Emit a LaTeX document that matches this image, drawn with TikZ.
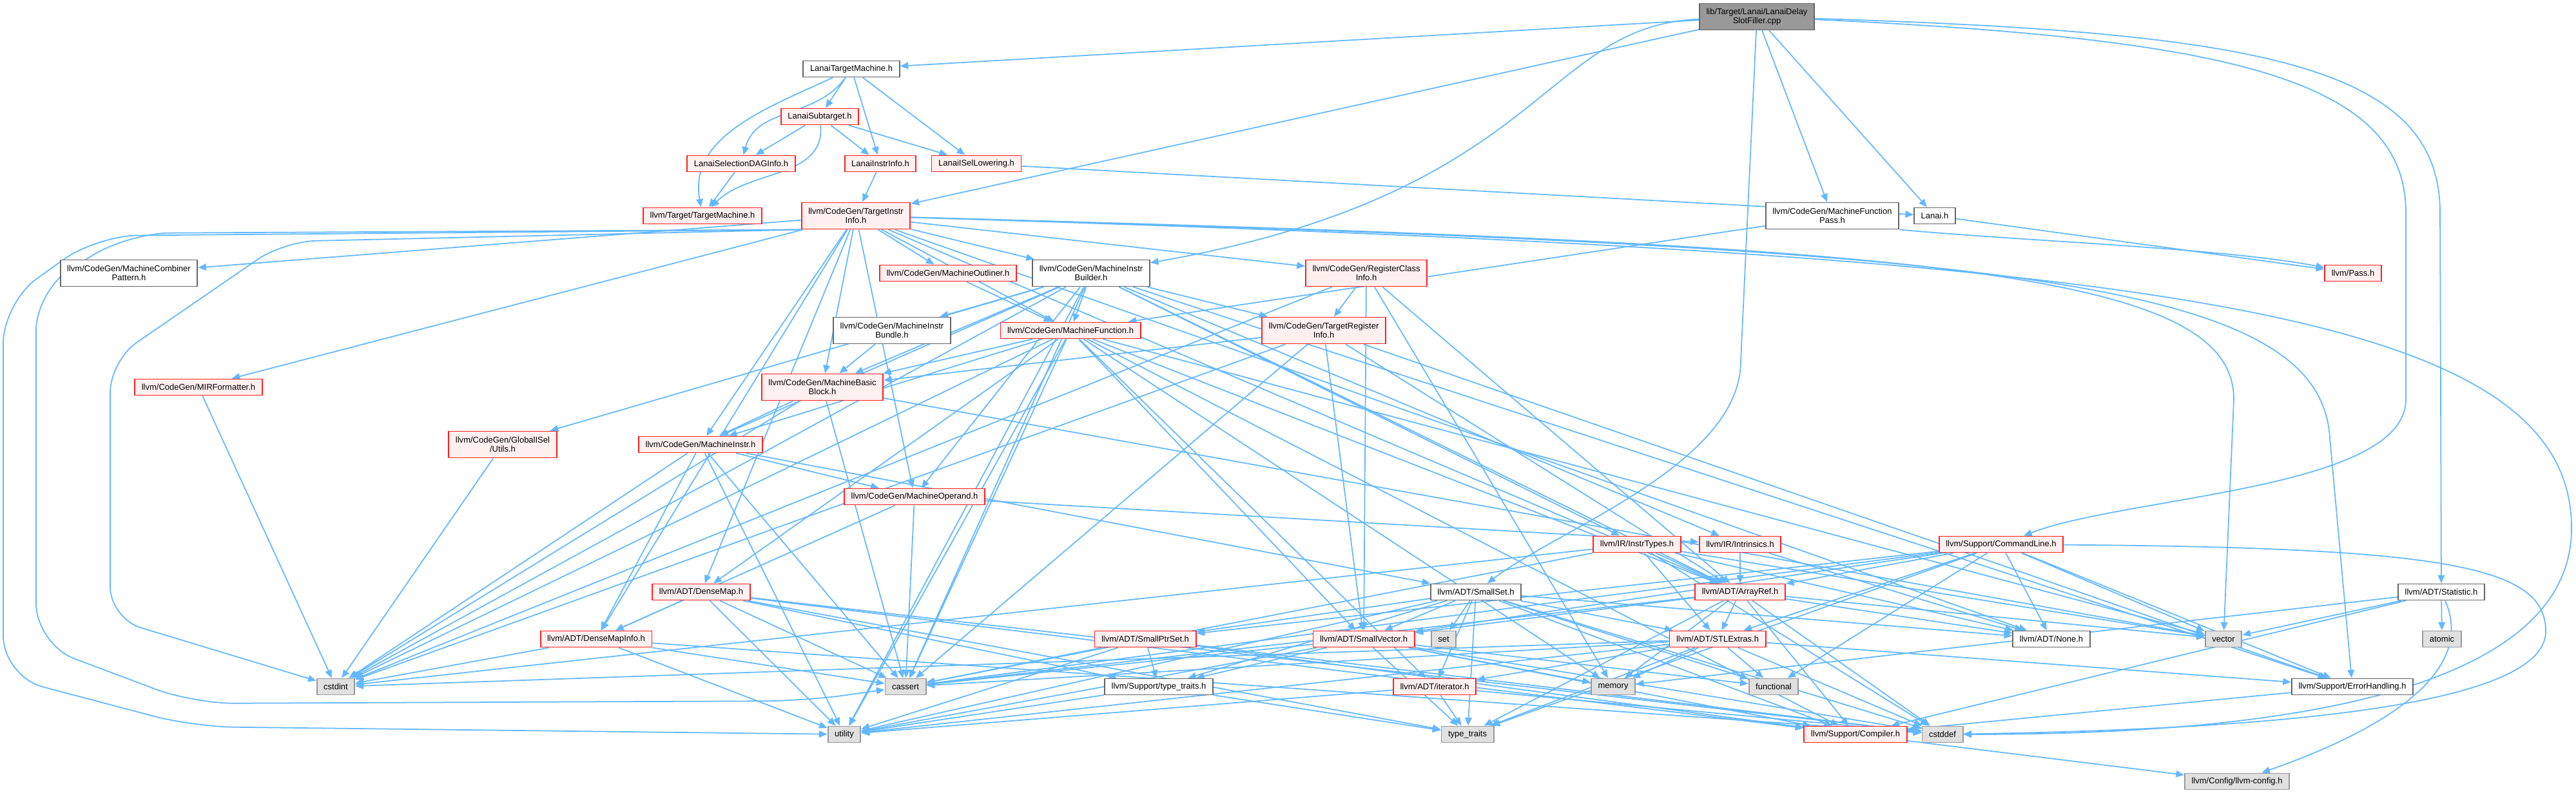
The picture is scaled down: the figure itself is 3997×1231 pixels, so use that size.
\documentclass[tikz,border=0pt]{standalone}
\usepackage{fontspec}
\setmainfont{Liberation Sans}
\usetikzlibrary{arrows.meta,backgrounds}
\definecolor{depblue}{HTML}{63B8FF}
\definecolor{hdrred}{HTML}{FF2020}
\definecolor{hdrpink}{HTML}{FFF0F0}
\definecolor{sysfill}{HTML}{E0E0E0}
\definecolor{sysline}{HTML}{999999}
\definecolor{fileline}{HTML}{666666}
\begin{document}
\begin{tikzpicture}[x=0.01cm, y=-0.01cm, every node/.style={font=\fontsize{3.7}{4.1}\selectfont},
  box/.style={draw,rectangle,align=center,inner xsep=3pt,inner ysep=1.5pt,minimum height=0.25cm,line width=0.55pt},
  two/.style={minimum height=0.41cm},
  hdr/.style={box,draw=hdrred,fill=hdrpink},
  leaf/.style={box,draw=fileline,fill=white},
  sys/.style={box,draw=sysline,fill=sysfill},
  main/.style={box,draw=fileline,fill=sysline},
  dep/.style={draw=depblue,line width=0.5pt,-{Triangle[length=3.6pt,width=3pt]}}]
\useasboundingbox (0,0) rectangle (3997,1231);
% Lanai target headers
\node[main,two] (root) at (2726,26) {lib/Target/Lanai/LanaiDelay\\SlotFiller.cpp};
\node[leaf] (ltm) at (1321,107) {LanaiTargetMachine.h};
\node[hdr] (lsub) at (1272,181) {LanaiSubtarget.h};
\node[hdr] (lsdag) at (1150,254) {LanaiSelectionDAGInfo.h};
\node[hdr] (lii) at (1366,254) {LanaiInstrInfo.h};
\node[hdr] (lisel) at (1515,254) {LanaiISelLowering.h};
\node[hdr] (tm) at (1090,335) {llvm/Target/TargetMachine.h};
\node[hdr,two] (tii) at (1328,335) {llvm/CodeGen/TargetInstr\\Info.h};
\node[leaf,two] (mfp) at (2843,335) {llvm/CodeGen/MachineFunction\\Pass.h};
\node[leaf] (lanai) at (3002,335) {Lanai.h};
% CodeGen headers
\node[leaf,two] (mcp) at (200,424) {llvm/CodeGen/MachineCombiner\\Pattern.h};
\node[hdr] (mout) at (1471,424) {llvm/CodeGen/MachineOutliner.h};
\node[leaf,two] (mib) at (1693,424) {llvm/CodeGen/MachineInstr\\Builder.h};
\node[hdr,two] (rci) at (2120,424) {llvm/CodeGen/RegisterClass\\Info.h};
\node[hdr] (pass) at (3651,424) {llvm/Pass.h};
\node[leaf,two] (mibun) at (1384,513) {llvm/CodeGen/MachineInstr\\Bundle.h};
\node[hdr] (mf) at (1661,513) {llvm/CodeGen/MachineFunction.h};
\node[hdr,two] (tri) at (2054,513) {llvm/CodeGen/TargetRegister\\Info.h};
\node[hdr] (mirf) at (308,601) {llvm/CodeGen/MIRFormatter.h};
\node[hdr,two] (mbb) at (1276,601) {llvm/CodeGen/MachineBasic\\Block.h};
\node[hdr,two] (gis) at (780,690) {llvm/CodeGen/GlobalISel\\/Utils.h};
\node[hdr] (mi) at (1087,690) {llvm/CodeGen/MachineInstr.h};
\node[hdr] (mop) at (1419,771) {llvm/CodeGen/MachineOperand.h};
% IR, Support and ADT headers
\node[hdr] (instrt) at (2540,845) {llvm/IR/InstrTypes.h};
\node[hdr] (intrin) at (2700,845) {llvm/IR/Intrinsics.h};
\node[hdr] (cl) at (3105,845) {llvm/Support/CommandLine.h};
\node[hdr] (dmap) at (1088,919) {llvm/ADT/DenseMap.h};
\node[leaf] (sset) at (2290,919) {llvm/ADT/SmallSet.h};
\node[hdr] (aref) at (2700,919) {llvm/ADT/ArrayRef.h};
\node[leaf] (stat) at (3788,919) {llvm/ADT/Statistic.h};
\node[hdr] (dmi) at (925,992) {llvm/ADT/DenseMapInfo.h};
\node[hdr] (sps) at (1777,992) {llvm/ADT/SmallPtrSet.h};
\node[hdr] (svec) at (2116,992) {llvm/ADT/SmallVector.h};
\node[sys] (set) at (2240,992) {set};
\node[hdr] (stl) at (2665,992) {llvm/ADT/STLExtras.h};
\node[leaf] (none) at (3183,992) {llvm/ADT/None.h};
\node[sys] (vector) at (3450,992) {vector};
\node[sys] (atomic) at (3789,992) {atomic};
\node[sys] (cstdint) at (521,1066) {cstdint};
\node[sys] (cassert) at (1405,1066) {cassert};
\node[leaf] (stt) at (1798,1066) {llvm/Support/type\_traits.h};
\node[hdr] (iter) at (2226,1066) {llvm/ADT/iterator.h};
\node[sys] (memory) at (2503,1066) {memory};
\node[sys] (functional) at (2752,1066) {functional};
\node[leaf] (eh) at (3650,1066) {llvm/Support/ErrorHandling.h};
\node[sys] (utility) at (1310,1140) {utility};
\node[sys] (tt) at (2277,1140) {type\_traits};
\node[hdr] (comp) at (2879,1140) {llvm/Support/Compiler.h};
\node[sys] (cstddef) at (3014,1140) {cstddef};
\node[sys] (cfg) at (3471,1213) {llvm/Config/llvm-config.h};
\begin{scope}[on background layer]
% root file
\draw[dep] (root) -- (ltm); \draw[dep] (root) -- (tii); \draw[dep] (root) -- (mfp); \draw[dep] (root) -- (lanai);
\draw[dep] (root) .. controls (2390,40) and (2400,300) .. (mib);
\draw[dep] (root) -- (2701,560) .. controls (2701,720) and (2420,820) .. (sset);
\draw[dep] (root) .. controls (3450,60) and (3733,120) .. (3733,330) -- (3733,620) .. controls (3733,760) and (3300,770) .. (cl);
\draw[dep] (root) .. controls (3500,50) and (3786,100) .. (3786,330) -- (stat);
% Lanai headers
\draw[dep] (ltm) -- (lsub); \draw[dep] (ltm) -- (lii); \draw[dep] (ltm) -- (lisel);
\draw[dep] (ltm) to[out=235,in=75] (lsdag); \draw[dep] (ltm) to[out=205,in=100] (tm);
\draw[dep] (lsub) -- (lsdag); \draw[dep] (lsub) -- (lii); \draw[dep] (lsub) -- (lisel); \draw[dep] (lsub) to[out=275,in=45] (tm);
\draw[dep] (lsdag) -- (tm); \draw[dep] (lii) -- (tii); \draw[dep] (lisel) -- (lanai);
\draw[dep] (mfp) -- (mf); \draw[dep] (mfp.south east) .. controls (3150,375) and (3450,385) .. (pass); \draw[dep] (lanai) -- (pass);
% TargetInstrInfo.h
\draw[dep] (tii) -- (mcp); \draw[dep] (tii) -- (mirf); \draw[dep] (tii) -- (mout); \draw[dep] (tii) -- (mib);
\draw[dep] (tii) -- (rci); \draw[dep] (tii) -- (mf); \draw[dep] (tii) -- (mbb); \draw[dep] (tii) -- (mi);
\draw[dep] (tii) -- (mop); \draw[dep] (tii) -- (dmap); \draw[dep] (tii) -- (dmi); \draw[dep] (tii) -- (aref);
\draw[dep] (tii) -- (none);
\draw[dep,rounded corners=14pt] (tii.south west) -- (440,375) -- (171,560) -- (171,960) -- (cstdint);
\draw[dep,rounded corners=18pt] (tii.south west) -- (200,362) -- (56,450) -- (56,1000) -- (300,1092) -- (1250,1088) -- (cassert);
\draw[dep,rounded corners=18pt] (tii.south west) -- (150,366) -- (5,470) -- (5,1050) -- (300,1128) -- (utility);
\draw[dep] (tii) .. controls (3000,380) and (3466,420) .. (3466,620) -- (vector);
\draw[dep] (tii) .. controls (3100,385) and (3600,430) .. (3615,680) -- (eh);
\draw[dep] (tii) .. controls (3300,395) and (3990,470) .. (3990,820) .. controls (3990,1110) and (3400,1140) .. (cstddef);
% MachineInstrBuilder.h
\draw[dep] (mib) -- (gis); \draw[dep] (mib) -- (mibun); \draw[dep] (mib) -- (mf); \draw[dep] (mib) -- (mbb);
\draw[dep] (mib) -- (mi); \draw[dep] (mib) -- (mop); \draw[dep] (mib) -- (tri); \draw[dep] (mib) -- (instrt);
\draw[dep] (mib) -- (intrin); \draw[dep] (mib) -- (aref); \draw[dep] (mib) -- (eh); \draw[dep] (mib) -- (cassert);
\draw[dep] (mib) -- (cstdint); \draw[dep] (mib) -- (utility);
% CodeGen internals
\draw[dep] (mout) -- (mf); \draw[dep] (mibun) -- (mbb);
\draw[dep] (rci) -- (tri); \draw[dep] (rci) -- (aref); \draw[dep] (rci) -- (svec); \draw[dep] (rci) -- (cstdint); \draw[dep] (rci) -- (memory);
\draw[dep] (tri) -- (mbb); \draw[dep] (tri) -- (aref); \draw[dep] (tri) -- (svec); \draw[dep] (tri) -- (eh);
\draw[dep] (tri) -- (cassert); \draw[dep] (tri) -- (cstdint);
\draw[dep] (mf) -- (aref); \draw[dep] (mf) -- (dmap); \draw[dep] (mf) -- (svec); \draw[dep] (mf) -- (iter);
\draw[dep] (mf) -- (mbb); \draw[dep] (mf) -- (mi); \draw[dep] (mf) -- (comp); \draw[dep] (mf) -- (cassert);
\draw[dep] (mf) -- (cstdint); \draw[dep] (mf) -- (memory); \draw[dep] (mf) -- (utility); \draw[dep] (mf) -- (vector);
\draw[dep] (mbb) -- (mi); \draw[dep] (mbb) -- (cassert); \draw[dep] (mbb) -- (cstdint); \draw[dep] (mbb) -- (vector);
\draw[dep] (mi) -- (dmi); \draw[dep] (mi) -- (mop); \draw[dep] (mi) -- (sset); \draw[dep] (mi) -- (cassert);
\draw[dep] (mi) -- (cstdint); \draw[dep] (mi) -- (utility);
\draw[dep] (mop) -- (dmi); \draw[dep] (mop) -- (intrin); \draw[dep] (mop) -- (cassert);
\draw[dep] (mirf) -- (cstdint); \draw[dep] (gis) -- (cstdint);
% IR and Support
\draw[dep] (instrt) -- (aref); \draw[dep] (instrt) -- (none); \draw[dep] (instrt) -- (stl); \draw[dep] (instrt) -- (cassert);
\draw[dep] (instrt) -- (cstddef); \draw[dep] (instrt) -- (cstdint); \draw[dep] (instrt) -- (vector);
\draw[dep] (intrin) -- (aref); \draw[dep] (intrin) -- (none);
\draw[dep] (cl) -- (aref); \draw[dep] (cl) -- (none); \draw[dep] (cl) -- (stl); \draw[dep] (cl) -- (sps);
\draw[dep] (cl) -- (svec); \draw[dep] (cl) -- (eh); \draw[dep] (cl) -- (cassert); \draw[dep] (cl) -- (functional);
\draw[dep] (cl) -- (tt); \draw[dep] (cl) -- (vector);
\draw[dep] (cl) .. controls (3800,850) and (3950,880) .. (3950,980) .. controls (3950,1100) and (3500,1132) .. (cstddef);
% ADT
\draw[dep] (dmap) -- (dmi); \draw[dep] (dmap) -- (comp); \draw[dep] (dmap) -- (stt); \draw[dep] (dmap) -- (cassert);
\draw[dep] (dmap) -- (cstddef); \draw[dep] (dmap) -- (tt); \draw[dep] (dmap) -- (utility);
\draw[dep] (sset) -- (none); \draw[dep] (sset) -- (sps); \draw[dep] (sset) -- (svec); \draw[dep] (sset) -- (stl);
\draw[dep] (sset) -- (iter); \draw[dep] (sset) -- (comp); \draw[dep] (sset) -- (stt); \draw[dep] (sset) -- (cstddef);
\draw[dep] (sset) -- (functional); \draw[dep] (sset) -- (set); \draw[dep] (sset) -- (tt); \draw[dep] (sset) -- (utility);
\draw[dep] (aref) -- (none); \draw[dep] (aref) -- (stl); \draw[dep] (aref) -- (svec); \draw[dep] (aref) -- (comp);
\draw[dep] (aref) -- (cassert); \draw[dep] (aref) -- (cstddef); \draw[dep] (aref) -- (memory); \draw[dep] (aref) -- (tt);
\draw[dep] (aref) -- (vector);
\draw[dep] (stat) -- (vector); \draw[dep] (stat) -- (atomic); \draw[dep] (stat) -- (memory); \draw[dep] (stat) -- (comp);
\draw[dep] (stat) .. controls (3850,1060) and (3650,1150) .. (cfg);
\draw[dep] (dmi) -- (cassert); \draw[dep] (dmi) -- (cstddef); \draw[dep] (dmi) -- (cstdint); \draw[dep] (dmi) -- (utility);
\draw[dep] (sps) -- (comp); \draw[dep] (sps) -- (stt); \draw[dep] (sps) -- (cassert); \draw[dep] (sps) -- (cstddef); \draw[dep] (sps) -- (utility);
\draw[dep] (svec) -- (comp); \draw[dep] (svec) -- (stt); \draw[dep] (svec) -- (cassert); \draw[dep] (svec) -- (cstddef);
\draw[dep] (svec) -- (functional); \draw[dep] (svec) -- (memory); \draw[dep] (svec) -- (tt); \draw[dep] (svec) -- (utility);
\draw[dep] (stl) -- (iter); \draw[dep] (stl) -- (eh); \draw[dep] (stl) -- (cassert); \draw[dep] (stl) -- (cstddef);
\draw[dep] (stl) -- (cstdint); \draw[dep] (stl) -- (functional); \draw[dep] (stl) -- (memory); \draw[dep] (stl) -- (tt);
\draw[dep] (stl) -- (utility);
\draw[dep] (iter) -- (cstddef); \draw[dep] (iter) -- (tt); \draw[dep] (iter) -- (utility);
\draw[dep] (stt) -- (tt); \draw[dep] (stt) -- (utility);
\draw[dep] (eh) -- (comp); \draw[dep] (comp) -- (cfg);
\end{scope}
\end{tikzpicture}
\end{document}
